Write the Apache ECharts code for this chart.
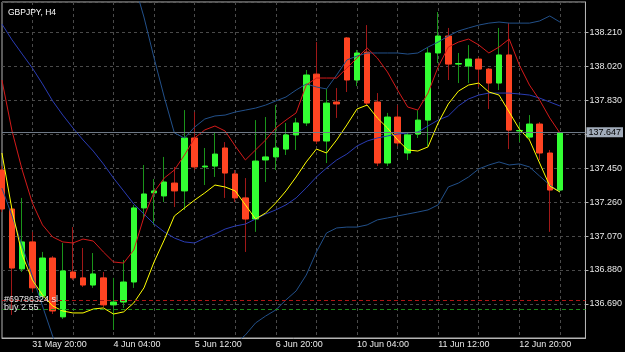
<!DOCTYPE html>
<html>
<head>
<meta charset="utf-8">
<title>GBPJPY, H4</title>
<script src="https://cdn.jsdelivr.net/npm/echarts@6.0.0/dist/echarts.min.js"></script>
<style>
  html, body { margin: 0; padding: 0; background: #000; }
  #chart { width: 625px; height: 352px; }
</style>
</head>
<body>
<div id="chart"></div>
<script>
const symbolTitle = 'GBPJPY, H4'

// H4 candles left to right, x = candle index
const open = [137.439, 137.221, 136.886, 137.037, 136.735, 136.947, 136.618, 136.869, 136.836, 136.796,
  136.836, 136.685, 136.701, 136.813, 137.227, 137.311, 137.294, 137.366, 137.322, 137.618,
  137.456, 137.461, 137.562, 137.417, 137.283, 137.165, 137.495, 137.512, 137.556, 137.635,
  137.702, 137.975, 137.601, 137.819, 138.177, 137.942, 138.098, 137.819, 137.478, 137.735,
  137.534, 137.640, 137.718, 138.093, 138.188, 138.031, 138.020, 138.059, 138.003, 137.925,
  138.082, 137.657, 137.623, 137.696, 137.534, 137.327]
const close = [137.221, 136.891, 137.037, 136.780, 136.947, 136.651, 136.875, 136.836, 136.796, 136.858,
  136.685, 136.701, 136.813, 137.227, 137.305, 137.322, 137.372, 137.322, 137.618, 137.456,
  137.461, 137.528, 137.422, 137.283, 137.165, 137.489, 137.512, 137.562, 137.635, 137.702,
  137.970, 137.601, 137.813, 137.808, 137.942, 138.093, 137.813, 137.478, 137.735, 137.590,
  137.635, 137.718, 138.093, 138.188, 138.031, 138.034, 138.059, 138.003, 137.925, 138.082,
  137.662, 137.660, 137.696, 137.534, 137.327, 137.647]
const low = [137.204, 136.629, 136.869, 136.757, 136.724, 136.634, 136.606, 136.824, 136.785, 136.780,
  136.673, 136.545, 136.668, 136.780, 137.171, 137.132, 137.260, 137.232, 137.216, 137.439,
  137.355, 137.400, 137.283, 137.260, 136.981, 137.093, 137.372, 137.439, 137.523, 137.551,
  137.685, 137.584, 137.478, 137.730, 137.875, 137.908, 137.797, 137.461, 137.461, 137.573,
  137.495, 137.618, 137.573, 138.037, 137.942, 137.925, 137.925, 137.903, 137.780, 137.886,
  137.556, 137.595, 137.607, 137.495, 137.093, 137.316]
const high = [137.461, 137.232, 137.283, 137.093, 136.981, 136.958, 137.031, 137.120, 137.003, 136.975,
  136.869, 136.836, 136.936, 137.243, 137.467, 137.389, 137.512, 137.456, 137.774, 137.763,
  137.562, 137.651, 137.595, 137.439, 137.394, 137.718, 137.735, 137.802, 137.702, 137.730,
  137.998, 138.154, 137.892, 137.897, 138.182, 138.110, 138.249, 137.869, 137.758, 137.802,
  137.651, 137.774, 138.121, 138.322, 138.233, 138.093, 138.137, 138.070, 138.009, 138.233,
  138.260, 137.702, 137.746, 137.707, 137.551, 137.651]

// indicators
const maYellow = [137.534, 137.216, 136.964, 136.824, 136.741, 136.679, 136.651, 136.640, 136.640, 136.662,
  136.668, 136.634, 136.646, 136.696, 136.780, 136.925, 137.048, 137.182, 137.227, 137.271,
  137.311, 137.355, 137.344, 137.322, 137.244, 137.165, 137.199, 137.255, 137.322, 137.400,
  137.484, 137.556, 137.534, 137.607, 137.691, 137.780, 137.802, 137.730, 137.674, 137.607,
  137.551, 137.545, 137.568, 137.702, 137.808, 137.880, 137.914, 137.925, 137.875, 137.858,
  137.763, 137.668, 137.607, 137.478, 137.350, 137.316]
const maRed = [137.942, 137.657, 137.439, 137.255, 137.132, 137.065, 137.037, 137.031, 137.053, 137.042,
  136.981, 136.925, 136.919, 136.992, 137.176, 137.316, 137.394, 137.439, 137.523, 137.618,
  137.663, 137.685, 137.657, 137.573, 137.495, 137.551, 137.607, 137.674, 137.718, 137.758,
  137.914, 137.953, 137.953, 137.953, 138.009, 138.065, 138.121, 138.065, 137.987, 137.886,
  137.791, 137.774, 137.869, 138.015, 138.126, 138.154, 138.171, 138.138, 138.093, 138.126,
  138.171, 138.026, 137.914, 137.830, 137.730, 137.646]
const bandUpper = [139.171, 139.149, 139.160, 139.171, 139.160, 139.138, 139.127, 139.093, 139.037, 138.970,
  138.881, 138.769, 138.640, 138.490, 138.294, 138.065, 137.847, 137.646, 137.618, 137.679,
  137.724, 137.741, 137.746, 137.763, 137.774, 137.785, 137.802, 137.825, 137.847, 137.886,
  137.920, 137.903, 137.892, 137.970, 138.054, 138.076, 138.093, 138.093, 138.093, 138.093,
  138.087, 138.093, 138.126, 138.154, 138.188, 138.216, 138.233, 138.249, 138.260, 138.266,
  138.260, 138.260, 138.260, 138.272, 138.300, 138.266]
const bandMiddle = [138.255, 138.166, 138.087, 138.009, 137.920, 137.825, 137.746, 137.674, 137.607, 137.545,
  137.473, 137.394, 137.322, 137.249, 137.193, 137.137, 137.093, 137.059, 137.037, 137.031,
  137.059, 137.081, 137.109, 137.126, 137.137, 137.165, 137.193, 137.216, 137.244, 137.283,
  137.339, 137.400, 137.450, 137.495, 137.528, 137.573, 137.601, 137.618, 137.629, 137.640,
  137.646, 137.651, 137.685, 137.718, 137.741, 137.797, 137.836, 137.858, 137.869, 137.869,
  137.869, 137.864, 137.858, 137.841, 137.819, 137.797]
const bandLower = [137.338, 137.182, 137.014, 136.847, 136.679, 136.511, 136.366, 136.266, 136.199, 136.154,
  136.126, 136.098, 136.087, 136.087, 136.109, 136.143, 136.182, 136.221, 136.266, 136.310,
  136.349, 136.394, 136.433, 136.467, 136.517, 136.584, 136.623, 136.657, 136.713, 136.763,
  136.852, 136.981, 137.087, 137.115, 137.120, 137.120, 137.132, 137.160, 137.171, 137.182,
  137.193, 137.204, 137.216, 137.244, 137.344, 137.366, 137.400, 137.445, 137.467, 137.484,
  137.467, 137.473, 137.456, 137.405, 137.355, 137.316]

// time axis: labels every 8 candles, grid every 4
const timeTickIdx = [3, 11, 19, 27, 35, 43, 51]
const timeTickLabels = ['31 May 20:00', '4 Jun 04:00', '5 Jun 12:00', '6 Jun 20:00', '10 Jun 04:00', '11 Jun 12:00', '12 Jun 20:00']
const timeGridIdx = [3, 7, 11, 15, 19, 23, 27, 31, 35, 39, 43, 47, 51, 55]

// price axis
const priceMin = 136.5
const priceMax = 138.378
const priceStep = 0.19

// levels
const bidPrice = 137.647
const slPrice = 136.705
const slText = '#69786324 sl'
const buyPrice = 136.662
const buyText = 'buy 2.55'

const font = 'Liberation Sans, Arial, sans-serif'
const frameColor = '#b4b4b4'
const gridColor = '#4a4a4a'

const wicks = open.map((o, i) => [i, o, close[i], low[i], high[i]])
const bodies = open.map((o, i) => [i, o, close[i], Math.min(o, close[i]), Math.max(o, close[i])])
const toXY = arr => arr.map((v, i) => [i, v])

const indicator = (name, data, color) => ({
  name,
  type: 'line',
  data: toXY(data),
  showSymbol: false,
  symbol: 'none',
  silent: true,
  lineStyle: { color, width: 1 },
  z: 4,
})

const chart = echarts.init(document.getElementById('chart'))

chart.setOption({
  animation: false,
  backgroundColor: '#000',
  title: {
    text: symbolTitle,
    left: 3,
    top: 3,
    textStyle: { color: '#ffffff', fontSize: 8.5, fontWeight: 'normal', fontFamily: font },
  },
  grid: {
    left: 2, top: 2, right: 37, bottom: 14,
    show: true, borderColor: frameColor, borderWidth: 1,
  },
  xAxis: {
    type: 'value',
    min: 0.01,
    max: 57.52,
    axisLine: { show: true, lineStyle: { color: frameColor } },
    axisTick: { show: false, customValues: timeGridIdx },
    axisLabel: {
      customValues: timeTickIdx,
      formatter: v => timeTickLabels[timeTickIdx.indexOf(v)] || '',
      align: 'left',
      margin: 2,
      color: '#e8e8e8',
      fontSize: 9,
      fontFamily: font,
    },
    splitLine: { show: true, lineStyle: { color: gridColor, type: [3, 3] } },
  },
  yAxis: {
    type: 'value',
    position: 'right',
    min: priceMin,
    max: priceMax,
    interval: priceStep,
    axisLine: { show: true, lineStyle: { color: frameColor } },
    axisTick: { show: true, length: 3, lineStyle: { color: frameColor } },
    axisLabel: {
      showMinLabel: false,
      showMaxLabel: false,
      margin: 4,
      color: '#e8e8e8',
      fontSize: 9,
      fontFamily: font,
      formatter: v => (Math.abs(v - 137.64) < 1e-6 ? '' : v.toFixed(3)),
    },
    splitLine: { show: true, lineStyle: { color: gridColor, type: [3, 3] } },
  },
  series: [
    {
      name: 'wicks',
      type: 'candlestick',
      data: wicks,
      barWidth: 1,
      silent: true,
      itemStyle: {
        color: '#1a941a', color0: '#a01818',
        borderColor: '#1a941a', borderColor0: '#a01818', borderWidth: 1,
      },
      z: 2,
    },
    {
      name: 'bodies',
      type: 'candlestick',
      data: bodies,
      barWidth: 6,
      silent: true,
      itemStyle: {
        color: '#33ff33', color0: '#ff4422',
        borderColor: '#33ff33', borderColor0: '#ff4422', borderWidth: 1,
      },
      z: 3,
      markLine: {
        silent: true,
        symbol: ['none', 'none'],
        animation: false,
        data: [
          {
            yAxis: bidPrice,
            lineStyle: { color: '#6f7a88', type: 'solid', width: 1 },
            label: {
              position: 'end',
              distance: 1,
              formatter: bidPrice.toFixed(3),
              backgroundColor: '#a2acba',
              color: '#000',
              padding: [1, 2, 0, 2],
              fontSize: 9,
              fontFamily: font,
            },
          },
          {
            yAxis: slPrice,
            lineStyle: { color: '#b01414', type: [4, 3], width: 1 },
            label: {
              position: 'insideStartTop',
              distance: [2, -3.5],
              formatter: slText,
              color: '#e6e6e6',
              fontSize: 9,
              fontFamily: font,
            },
          },
          {
            yAxis: buyPrice,
            lineStyle: { color: '#1a8a1a', type: [4, 3], width: 1 },
            label: {
              position: 'insideStartTop',
              distance: [2, -3],
              formatter: buyText,
              color: '#e6e6e6',
              fontSize: 9,
              fontFamily: font,
            },
          },
        ],
      },
    },
    indicator('upper', bandUpper, '#22508a'),
    indicator('middle', bandMiddle, '#2a3cb4'),
    indicator('lower', bandLower, '#22508a'),
    indicator('maRed', maRed, '#d41a1a'),
    indicator('maYellow', maYellow, '#ffff00'),
  ],
})
</script>
</body>
</html>
